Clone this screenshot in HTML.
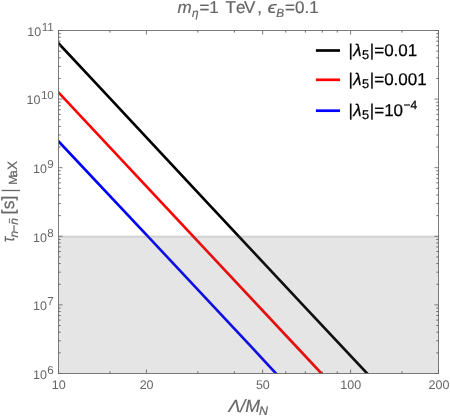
<!DOCTYPE html>
<html><head><meta charset="utf-8"><title>plot</title>
<style>html,body{margin:0;padding:0;background:#fff;}body{width:450px;height:417px;overflow:hidden;}svg{display:block;}text{font-family:"Liberation Sans",sans-serif;text-rendering:geometricPrecision;}</style>
</head><body>
<svg width="450" height="417" viewBox="0 0 450 417">
<rect x="0" y="0" width="450" height="417" fill="#ffffff"/>
<g opacity="0.999">
<defs><clipPath id="c"><rect x="58.5" y="30.5" width="380.0" height="343.0"/></clipPath></defs>
<g clip-path="url(#c)" fill="none" stroke-width="2.7" stroke-linecap="butt" stroke-linejoin="round">
<polyline points="53.50,37.95 100.00,87.70 200.00,194.80 300.00,301.90 372.83,379.50" stroke="#000000"/>
<polyline points="53.50,87.05 200.00,243.70 300.00,350.50 327.11,379.50" stroke="#ff0000"/>
<polyline points="53.50,135.98 150.00,238.60 250.00,345.30 281.53,379.50" stroke="#0000ff"/>
</g>
<rect x="58.5" y="237.90" width="380.0" height="135.60" fill="#616161" fill-opacity="0.165"/>
<rect x="58.5" y="235.60" width="380.0" height="2.3" fill="#616161" fill-opacity="0.266"/>
<path d="M58.50 373.5v-4M58.50 30.5v4M146.42 373.5v-4M146.42 30.5v4M262.65 373.5v-4M262.65 30.5v4M350.58 373.5v-4M350.58 30.5v4M438.50 373.5v-4M438.50 30.5v4M58.5 373.50h4M438.5 373.50h-4M58.5 304.90h4M438.5 304.90h-4M58.5 236.30h4M438.5 236.30h-4M58.5 167.70h4M438.5 167.70h-4M58.5 99.10h4M438.5 99.10h-4M58.5 30.50h4M438.5 30.50h-4" stroke="#666666" stroke-width="0.85" fill="none"/>
<path d="M109.93 373.5v-2.1M109.93 30.5v2.1M197.86 373.5v-2.1M197.86 30.5v2.1M234.35 373.5v-2.1M234.35 30.5v2.1M285.78 373.5v-2.1M285.78 30.5v2.1M305.33 373.5v-2.1M305.33 30.5v2.1M322.27 373.5v-2.1M322.27 30.5v2.1M337.21 373.5v-2.1M337.21 30.5v2.1M402.01 373.5v-2.1M402.01 30.5v2.1M58.5 352.85h2.1M438.5 352.85h-2.1M58.5 340.77h2.1M438.5 340.77h-2.1M58.5 332.20h2.1M438.5 332.20h-2.1M58.5 325.55h2.1M438.5 325.55h-2.1M58.5 320.12h2.1M438.5 320.12h-2.1M58.5 315.53h2.1M438.5 315.53h-2.1M58.5 311.55h2.1M438.5 311.55h-2.1M58.5 308.04h2.1M438.5 308.04h-2.1M58.5 284.25h2.1M438.5 284.25h-2.1M58.5 272.17h2.1M438.5 272.17h-2.1M58.5 263.60h2.1M438.5 263.60h-2.1M58.5 256.95h2.1M438.5 256.95h-2.1M58.5 251.52h2.1M438.5 251.52h-2.1M58.5 246.93h2.1M438.5 246.93h-2.1M58.5 242.95h2.1M438.5 242.95h-2.1M58.5 239.44h2.1M438.5 239.44h-2.1M58.5 215.65h2.1M438.5 215.65h-2.1M58.5 203.57h2.1M438.5 203.57h-2.1M58.5 195.00h2.1M438.5 195.00h-2.1M58.5 188.35h2.1M438.5 188.35h-2.1M58.5 182.92h2.1M438.5 182.92h-2.1M58.5 178.33h2.1M438.5 178.33h-2.1M58.5 174.35h2.1M438.5 174.35h-2.1M58.5 170.84h2.1M438.5 170.84h-2.1M58.5 147.05h2.1M438.5 147.05h-2.1M58.5 134.97h2.1M438.5 134.97h-2.1M58.5 126.40h2.1M438.5 126.40h-2.1M58.5 119.75h2.1M438.5 119.75h-2.1M58.5 114.32h2.1M438.5 114.32h-2.1M58.5 109.73h2.1M438.5 109.73h-2.1M58.5 105.75h2.1M438.5 105.75h-2.1M58.5 102.24h2.1M438.5 102.24h-2.1M58.5 78.45h2.1M438.5 78.45h-2.1M58.5 66.37h2.1M438.5 66.37h-2.1M58.5 57.80h2.1M438.5 57.80h-2.1M58.5 51.15h2.1M438.5 51.15h-2.1M58.5 45.72h2.1M438.5 45.72h-2.1M58.5 41.13h2.1M438.5 41.13h-2.1M58.5 37.15h2.1M438.5 37.15h-2.1M58.5 33.64h2.1M438.5 33.64h-2.1" stroke="#666666" stroke-width="1.0" fill="none"/>
<rect x="58.5" y="30.5" width="380.0" height="343.0" fill="none" stroke="#666666" stroke-width="0.85"/>
<g fill="#666666" font-size="12.5" text-anchor="middle">
<text x="58.70" y="389">10</text>
<text x="146.62" y="389">20</text>
<text x="262.85" y="389">50</text>
<text x="350.78" y="389">100</text>
<text x="439.00" y="389">200</text>
</g>
<g fill="#666666" font-size="12.5" text-anchor="end">
<text x="53.8" y="378.80">10<tspan font-size="11.6" dx="0.5" dy="-5">6</tspan></text>
<text x="53.8" y="310.20">10<tspan font-size="11.6" dx="0.5" dy="-5">7</tspan></text>
<text x="53.8" y="241.60">10<tspan font-size="11.6" dx="0.5" dy="-5">8</tspan></text>
<text x="53.8" y="173.00">10<tspan font-size="11.6" dx="0.5" dy="-5">9</tspan></text>
<text x="53.8" y="104.40">10<tspan font-size="11.6" dx="0.5" dy="-5">10</tspan></text>
<text x="53.8" y="35.80">10<tspan font-size="11.6" dx="0.5" dy="-5">11</tspan></text>
</g>
<g fill="#666666" stroke="#666666" stroke-width="0.2" font-size="17">
<text y="13.2"><tspan x="177.4" font-style="italic">m</tspan><tspan x="191.9" font-style="italic" font-size="11.8" dy="3.6">η</tspan><tspan x="199.4" dy="-3.6">=1 </tspan><tspan x="225.6">T</tspan><tspan x="236.0">e</tspan><tspan x="244.0">V</tspan><tspan x="257.2">, </tspan></text>
<text transform="translate(267.4,13.2) scale(1.22,1)" x="0" y="0" font-style="italic">ϵ</text>
<text y="13.2"><tspan x="276.2" font-style="italic" font-size="11.8" dy="3.6">B</tspan><tspan x="285.1" dy="-3.6">=0.1</tspan></text>
</g>
<text y="411.6" fill="#666666" stroke="#666666" stroke-width="0.2" font-size="17.8" font-style="italic"><tspan x="228.4">Λ</tspan><tspan x="240.2">/M</tspan><tspan x="259" font-size="12.4" dy="3.1">N</tspan></text>
<g transform="translate(14,244) rotate(-90)" fill="#666666" stroke="#666666" stroke-width="0.2">
<text transform="translate(2.0,0) scale(0.8,1)" x="0" y="0" font-size="17.5" font-style="italic">τ</text>
<text y="3.8" font-size="12" font-style="italic"><tspan x="6.5">n</tspan><tspan x="12.1">−</tspan><tspan x="19.3">n</tspan></text>
<line x1="20.7" y1="-4.6" x2="25.6" y2="-4.6" stroke="#666666" stroke-width="0.9"/>
<text y="0" font-size="17.5"><tspan x="29.4">[</tspan><tspan x="34.8">s</tspan><tspan x="43.6">]</tspan></text>
<line x1="53.5" y1="-12.4" x2="53.5" y2="6" stroke="#666666" stroke-width="1.3"/>
<text y="3.3" font-size="12"><tspan x="59.3">M</tspan><tspan x="66.9">a</tspan><tspan x="73.9" font-size="13.5">X</tspan></text>
</g>
<line x1="315.9" y1="50.5" x2="340" y2="50.5" stroke="#000000" stroke-width="2.7"/>
<line x1="315.9" y1="79.8" x2="340" y2="79.8" stroke="#ff0000" stroke-width="2.7"/>
<line x1="315.9" y1="110.7" x2="340" y2="110.7" stroke="#0000ff" stroke-width="2.7"/>
<text y="55.8" fill="#000" stroke="#000" stroke-width="0.25" font-size="17"><tspan x="348.6">|</tspan><tspan x="353.2" font-style="italic">λ</tspan><tspan x="362" font-size="12.8" dy="3.5">5</tspan><tspan x="369.8" dy="-3.5">|=0.01</tspan></text>
<text y="84.7" fill="#000" stroke="#000" stroke-width="0.25" font-size="17"><tspan x="348.6">|</tspan><tspan x="353.2" font-style="italic">λ</tspan><tspan x="362" font-size="12.8" dy="3.5">5</tspan><tspan x="369.8" dy="-3.5">|=0.001</tspan></text>
<text y="115.8" fill="#000" stroke="#000" stroke-width="0.25" font-size="17"><tspan x="348.6">|</tspan><tspan x="353.2" font-style="italic">λ</tspan><tspan x="362" font-size="12.8" dy="3.5">5</tspan><tspan x="369.8" dy="-3.5">|=10<tspan font-size="12" dx="0.5" dy="-6.5">−4</tspan></tspan></text>
</g>
</svg></body></html>
